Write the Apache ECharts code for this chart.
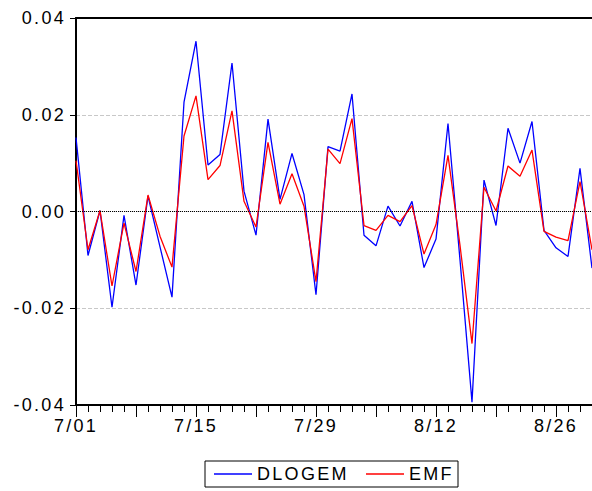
<!DOCTYPE html>
<html>
<head>
<meta charset="utf-8">
<script src="https://cdn.jsdelivr.net/npm/echarts@6/dist/echarts.min.js"></script>
<style>
html, body { margin: 0; padding: 0; background: #fff; }
#main { width: 592px; height: 491px; }
/* wide letter spacing like the original export */
#main svg text { letter-spacing: 2.3px; }
</style>
</head>
<body>
<div id="main"></div>
<script>
// business days 7/01 - 8/29 (the picture is cut off at 8/29)
var dates = ['7/01','7/02','7/03','7/04','7/05','7/08','7/09','7/10','7/11','7/12',
	'7/15','7/16','7/17','7/18','7/19','7/22','7/23','7/24','7/25','7/26',
	'7/29','7/30','7/31','8/01','8/02','8/05','8/06','8/07','8/08','8/09',
	'8/12','8/13','8/14','8/15','8/16','8/19','8/20','8/21','8/22','8/23',
	'8/26','8/27','8/28','8/29'];

var dlogem = [0.0153,-0.0091,0.0002,-0.0198,-0.0008,-0.0152,0.0032,-0.0073,-0.0177,0.0226,
	0.0352,0.0096,0.0118,0.0307,0.0042,-0.0049,0.0191,0.0025,0.0120,0.0035,
	-0.0172,0.0134,0.0125,0.0243,-0.0049,-0.0071,0.0011,-0.0030,0.0021,-0.0116,
	-0.0057,0.0182,-0.0100,-0.0394,0.0065,-0.0029,0.0172,0.0100,0.0186,-0.0039,
	-0.0075,-0.0093,0.0089,-0.0117];

var emf = [0.0105,-0.0079,0.0002,-0.0154,-0.0024,-0.0124,0.0034,-0.0051,-0.0115,0.0156,
	0.0239,0.0066,0.0095,0.0208,0.0021,-0.0032,0.0143,0.0015,0.0078,0.0011,
	-0.0145,0.0129,0.0099,0.0192,-0.0029,-0.0039,-0.0008,-0.0021,0.0012,-0.0088,
	-0.0027,0.0116,-0.0070,-0.0273,0.0050,0.0001,0.0094,0.0073,0.0127,-0.0041,
	-0.0053,-0.0060,0.0062,-0.0079];

var FONT = 'Liberation Sans';

var myChart = echarts.init(document.getElementById('main'), null, { renderer: 'svg' });
var option = {
	animation: false,
	textStyle: { fontFamily: FONT },
	grid: {
		left: 76,
		top: 18,
		right: 0,
		height: 387
	},
	legend: {
		left: 205,
		top: 461,
		padding: [4, 11, 4, 9],
		itemGap: 31,
		itemWidth: 38,
		itemHeight: 1.5,
		icon: 'rect',
		borderColor: '#000',
		borderWidth: 1,
		textStyle: { fontSize: 18, color: '#000', fontFamily: FONT },
		data: ['DLOGEM', 'EMF']
	},
	xAxis: [
		{
			type: 'category',
			boundaryGap: false,
			data: dates,
			axisLine: { onZero: false, lineStyle: { color: '#000', width: 2 } },
			axisTick: { interval: 0, length: 7, lineStyle: { color: '#000', width: 1 } },
			axisLabel: { interval: 9, margin: 12, fontSize: 18, color: '#000' },
			splitLine: { show: false }
		},
		{
			// long ticks every 5 days
			type: 'category',
			position: 'bottom',
			boundaryGap: false,
			data: dates,
			axisLine: { show: false, onZero: false },
			axisTick: { interval: 4, length: 12, lineStyle: { color: '#000', width: 1 } },
			axisLabel: { show: false },
			splitLine: { show: false }
		},
		{
			// top frame line
			type: 'category',
			position: 'top',
			boundaryGap: false,
			data: dates,
			axisLine: { onZero: false, lineStyle: { color: '#000', width: 2 } },
			axisTick: { show: false },
			axisLabel: { show: false },
			splitLine: { show: false }
		}
	],
	yAxis: {
		type: 'value',
		min: -0.04,
		max: 0.04,
		interval: 0.02,
		axisLine: { show: true, onZero: false, lineStyle: { color: '#000', width: 2 } },
		axisTick: { show: true, length: 6, lineStyle: { color: '#000' } },
		axisLabel: {
			fontSize: 18, color: '#000', margin: 10,
			formatter: function (v) { return v.toFixed(2); }
		},
		splitLine: { show: true, lineStyle: { color: '#c8c8c8', type: 'dashed', width: 1 } }
	},
	series: [
		{
			name: 'DLOGEM',
			type: 'line',
			data: dlogem,
			symbol: 'none',
			color: '#0000ff',
			lineStyle: { color: '#0000ff', width: 1.3 },
			markLine: {
				silent: true,
				symbol: 'none',
				label: { show: false },
				lineStyle: { color: '#000', type: 'dotted', width: 1 },
				data: [{ yAxis: 0 }]
			}
		},
		{
			name: 'EMF',
			type: 'line',
			data: emf,
			symbol: 'none',
			color: '#ff0000',
			lineStyle: { color: '#ff0000', width: 1.3 }
		}
	]
};
myChart.setOption(option);
</script>
</body>
</html>
